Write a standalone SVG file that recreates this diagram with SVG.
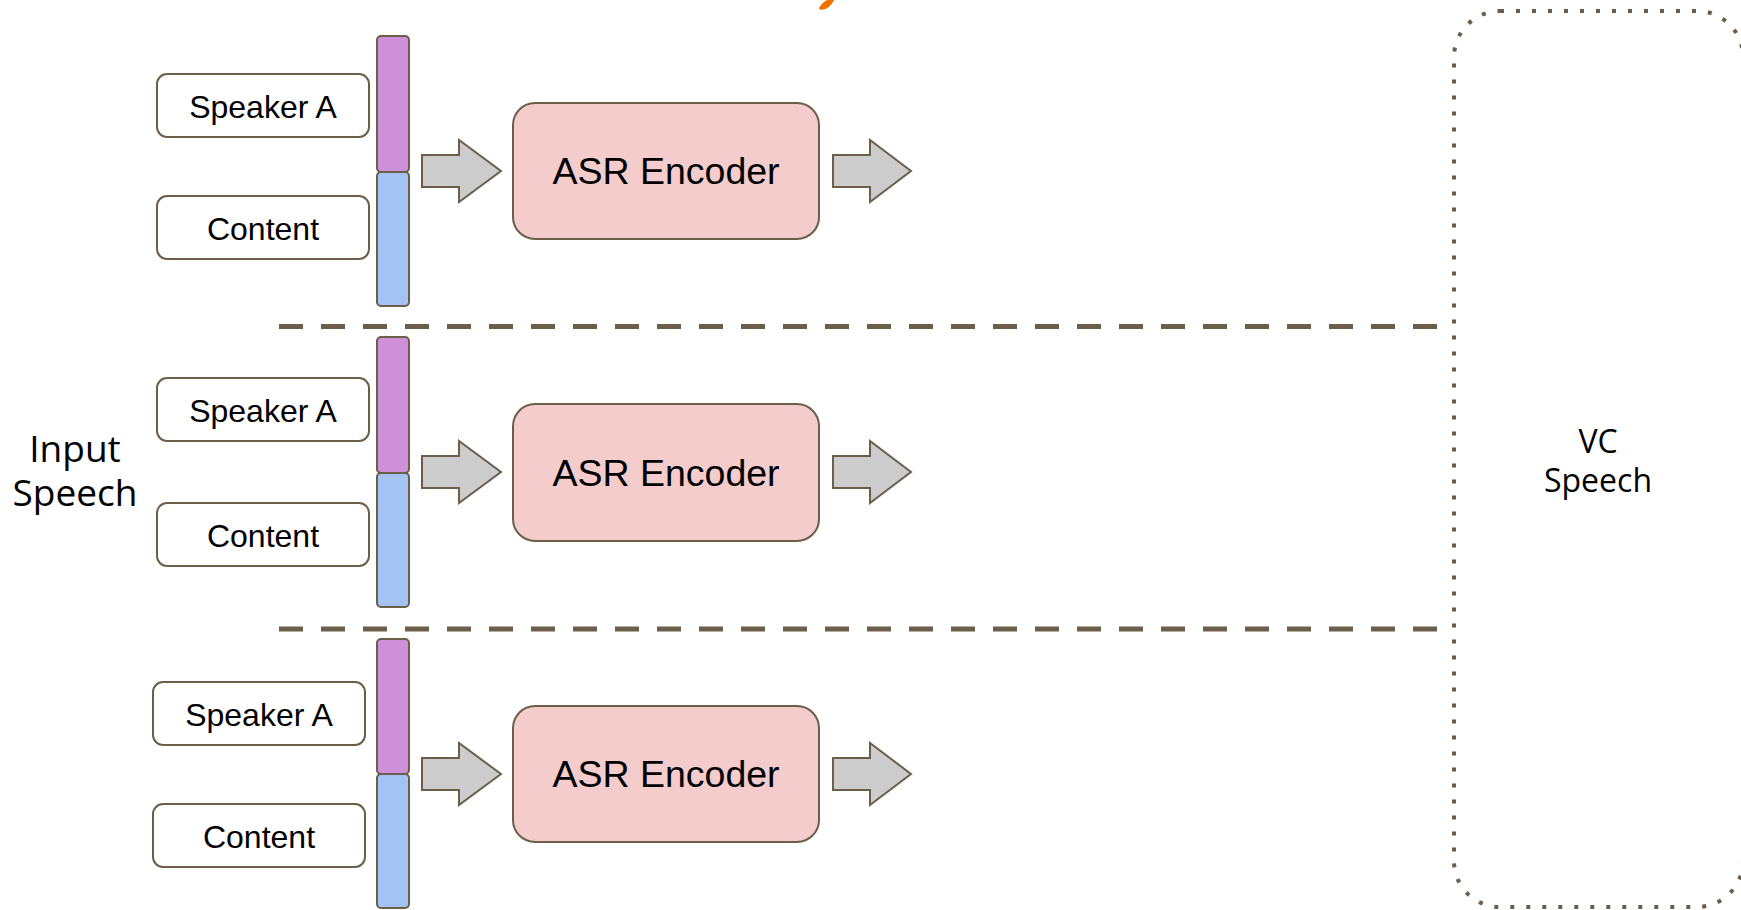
<svg xmlns="http://www.w3.org/2000/svg" width="1741" height="910" viewBox="0 0 1741 910">
  <style>
    .label { fill: #ffffff; stroke: #6b5f4a; stroke-width: 2; }
    .spk { fill: #ce90d8; stroke: #6b5f4a; stroke-width: 2; }
    .cnt { fill: #a4c2f4; stroke: #6b5f4a; stroke-width: 2; }
    .enc { fill: #f4cccc; stroke: #6b5f4a; stroke-width: 2; }
    .arrow { fill: #cccccc; stroke: #6b5f4a; stroke-width: 2; stroke-linejoin: miter; }
    .sep { fill: none; stroke: #6b5f4a; stroke-width: 5; stroke-dasharray: 24 18; }
    .frame { fill: none; stroke: #6b5f4a; stroke-width: 4; stroke-dasharray: 4 12; }
    .t { font-family: "Liberation Sans", Arial, sans-serif; fill: #000000; text-anchor: middle; }
    .t32 { font-size: 32px; }
    .t37 { font-size: 37.5px; }
    .os { font-family: "Open Sans", "Noto Sans", sans-serif; fill: #000000; text-anchor: middle; }
  </style>

  <rect width="1741" height="910" fill="#ffffff"/>

  <!-- clipped heading fragment at the top edge -->
  <path d="M819,8 C822,3 826,0 828,0 L834,0 C832,4 829,8 825,9 C822,10 819,10 819,8 Z" fill="#f07000"/>

  <!-- row separators -->
  <g id="separators">
    <line class="sep" x1="279" y1="326.5" x2="1437" y2="326.5"/>
    <line class="sep" x1="279" y1="629" x2="1437" y2="629"/>
  </g>

  <!-- output frame -->
  <g id="vc-speech">
    <rect class="frame" x="1454" y="11" width="289" height="896" rx="46" ry="46"/>
    <text class="os" font-size="32" x="1598" y="453">VC<tspan x="1598" dy="39">Speech</tspan></text>
  </g>

  <g id="input-speech">
    <text class="os" font-size="37" x="75" y="462">Input<tspan x="75" dy="44">Speech</tspan></text>
  </g>

  <!-- row 1 -->
  <g id="speaker-1">
    <rect class="label" x="157" y="74" width="212" height="63" rx="10"/>
    <text class="t t32" x="263" y="118">Speaker A</text>
  </g>
  <g id="content-1">
    <rect class="label" x="157" y="196" width="212" height="63" rx="10"/>
    <text class="t t32" x="263" y="240">Content</text>
  </g>
  <g id="feature-1">
    <rect class="spk" x="377" y="36" width="32" height="136" rx="4"/>
    <rect class="cnt" x="377" y="172" width="32" height="134" rx="4"/>
  </g>
  <g id="encoder-1">
    <rect class="enc" x="513" y="103" width="306" height="136" rx="22"/>
    <text class="t t37" x="666" y="184">ASR Encoder</text>
  </g>

  <!-- row 2 -->
  <g id="speaker-2">
    <rect class="label" x="157" y="378" width="212" height="63" rx="10"/>
    <text class="t t32" x="263" y="422">Speaker A</text>
  </g>
  <g id="content-2">
    <rect class="label" x="157" y="503" width="212" height="63" rx="10"/>
    <text class="t t32" x="263" y="547">Content</text>
  </g>
  <g id="feature-2">
    <rect class="spk" x="377" y="337" width="32" height="136" rx="4"/>
    <rect class="cnt" x="377" y="473" width="32" height="134" rx="4"/>
  </g>
  <g id="encoder-2">
    <rect class="enc" x="513" y="404" width="306" height="137" rx="22"/>
    <text class="t t37" x="666" y="486">ASR Encoder</text>
  </g>

  <!-- row 3 -->
  <g id="speaker-3">
    <rect class="label" x="153" y="682" width="212" height="63" rx="10"/>
    <text class="t t32" x="259" y="726">Speaker A</text>
  </g>
  <g id="content-3">
    <rect class="label" x="153" y="804" width="212" height="63" rx="10"/>
    <text class="t t32" x="259" y="848">Content</text>
  </g>
  <g id="feature-3">
    <rect class="spk" x="377" y="639" width="32" height="135" rx="4"/>
    <rect class="cnt" x="377" y="774" width="32" height="134" rx="4"/>
  </g>
  <g id="encoder-3">
    <rect class="enc" x="513" y="706" width="306" height="136" rx="22"/>
    <text class="t t37" x="666" y="787">ASR Encoder</text>
  </g>

  <!-- block arrows -->
  <g id="connectors">
    <polygon class="arrow" points="422,155 459,155 459,140 501,171 459,202 459,187 422,187"/>
    <polygon class="arrow" points="833,155 870,155 870,140 911,171 870,202 870,187 833,187"/>
    <polygon class="arrow" points="422,456 459,456 459,441 501,472 459,503 459,488 422,488"/>
    <polygon class="arrow" points="833,456 870,456 870,441 911,472 870,503 870,488 833,488"/>
    <polygon class="arrow" points="422,758 459,758 459,743 501,774 459,805 459,790 422,790"/>
    <polygon class="arrow" points="833,758 870,758 870,743 911,774 870,805 870,790 833,790"/>
  </g>
</svg>
